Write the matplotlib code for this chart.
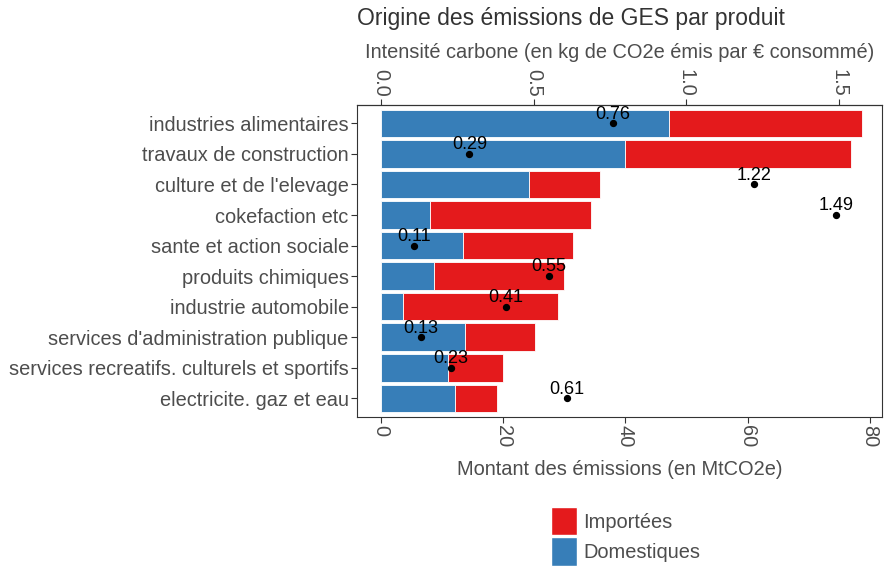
import matplotlib
matplotlib.use('Agg')
import matplotlib.pyplot as plt
from matplotlib.patches import Patch
import numpy as np

plt.rcParams['font.family'] = ['Liberation Sans', 'DejaVu Sans']

produits = [
    'industries alimentaires',
    'travaux de construction',
    "culture et de l'elevage",
    'cokefaction etc',
    'sante et action sociale',
    'produits chimiques',
    'industrie automobile',
    "services d'administration publique",
    'services recreatifs. culturels et sportifs',
    'electricite. gaz et eau',
]
domestiques = [47.1, 40.0, 24.3, 8.1, 13.5, 8.7, 3.7, 13.7, 11.0, 12.1]
totales = [78.8, 76.9, 35.9, 34.4, 31.5, 29.9, 29.0, 25.2, 20.0, 19.0]
importees = [t - d for t, d in zip(totales, domestiques)]
intensite = [0.76, 0.29, 1.22, 1.49, 0.11, 0.55, 0.41, 0.13, 0.23, 0.61]

facteur = 50  # échelle de l'axe secondaire

bleu = '#377EB8'
rouge = '#E41A1C'
gris = '#4D4D4D'
taille = 14.4


def main():
    fig = plt.figure(figsize=(8.87, 5.67), dpi=100)
    ax = fig.add_axes([357 / 887, 1 - 416.7 / 567, 525 / 887, 311.7 / 567])

    y = np.arange(len(produits))[::-1] + 1
    ax.barh(y, domestiques, height=0.9, color=bleu, edgecolor='white', linewidth=0.6)
    ax.barh(y, importees, left=domestiques, height=0.9, color=rouge, edgecolor='white', linewidth=0.6)

    xs = np.array(intensite) * facteur
    ax.scatter(xs, y, s=18, color='black', zorder=3)
    for xi, yi, v in zip(xs, y, intensite):
        ax.annotate(f'{v:.2f}', (xi, yi), xytext=(0, 0.5), textcoords='offset points',
                    ha='center', va='bottom', fontsize=13, color='black', zorder=4)

    ax.set_xlim(-3.9, 82.0)
    ax.set_ylim(0.4, 10.6)
    ax.set_yticks(y)
    ax.set_yticklabels(produits, fontsize=taille, color=gris)
    ax.set_xticks([0, 20, 40, 60, 80])
    ax.set_xticklabels(['0', '20', '40', '60', '80'], rotation=-90, fontsize=taille, color=gris)
    ax.tick_params(axis='both', length=4, color='#333333', width=0.8, pad=2)
    ax.set_xlabel('Montant des émissions (en MtCO2e)', fontsize=taille, color=gris, labelpad=9)
    for s in ax.spines.values():
        s.set_color('#333333')
        s.set_linewidth(0.8)

    sec = ax.secondary_xaxis('top', functions=(lambda v: v / facteur, lambda v: v * facteur))
    sec.set_xticks([0.0, 0.5, 1.0, 1.5])
    sec.set_xticklabels(['0.0', '0.5', '1.0', '1.5'], rotation=-90, fontsize=taille, color=gris)
    sec.tick_params(length=4, color='#333333', width=0.8, pad=2)
    sec.set_xlabel('Intensité carbone (en kg de CO2e émis par € consommé)', fontsize=taille,
                   color=gris, labelpad=8)

    fig.text(357 / 887, 1 - 18 / 567, 'Origine des émissions de GES par produit',
             fontsize=16.5, color='#333333', ha='left', va='center')

    poignees = [Patch(facecolor=rouge, edgecolor='white', label='Importées'),
                Patch(facecolor=bleu, edgecolor='white', label='Domestiques')]
    fig.legend(handles=poignees, loc='upper left', bbox_to_anchor=(543 / 887, 1 - 499 / 567),
               frameon=False, fontsize=taille, handlelength=1.3, handleheight=1.8,
               handletextpad=0.3, labelspacing=0.1, labelcolor=gris, borderaxespad=0)

    fig.savefig('out.png', dpi=100)


if __name__ == '__main__':
    main()
